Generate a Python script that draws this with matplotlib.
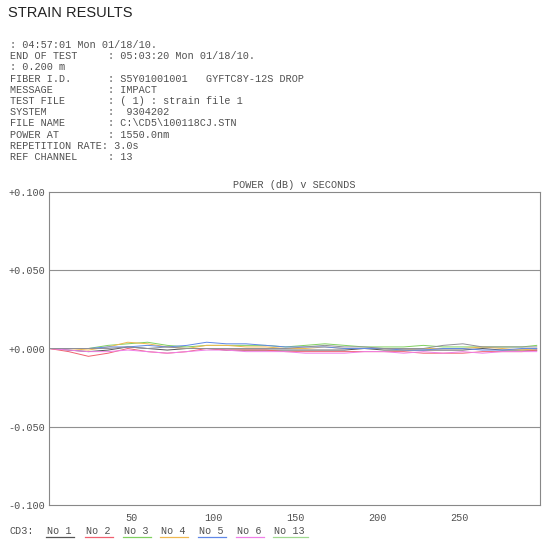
import matplotlib.pyplot as plt

# time (s) and power change (dB) per channel
seconds = [0, 12, 24, 36, 48, 60, 72, 84, 96, 108, 120, 132, 144, 156, 168,
           180, 192, 204, 216, 228, 240, 252, 264, 276, 288, 297]
no1 = [0.000, -0.001, -0.002, -0.001, 0.001, 0.000, -0.001, 0.000, 0.000, -0.001, -0.001, -0.001, -0.001, -0.001, -0.001,
       -0.001, 0.000, -0.001, -0.001, -0.001, -0.001, -0.001, 0.000, -0.001, -0.001, -0.001]
no2 = [0.000, -0.002, -0.005, -0.003, 0.000, -0.002, -0.003, -0.002, 0.000, -0.001, -0.001, -0.001, -0.002, -0.002, -0.002,
       -0.002, -0.002, -0.002, -0.002, -0.003, -0.003, -0.003, -0.002, -0.002, -0.002, -0.001]
no3 = [0.000, 0.000, 0.000, 0.002, 0.003, 0.004, 0.002, 0.001, 0.002, 0.002, 0.002, 0.002, 0.001, 0.002, 0.003,
       0.002, 0.001, 0.001, 0.001, 0.002, 0.001, 0.001, 0.001, 0.001, 0.001, 0.002]
no4 = [0.000, 0.000, -0.001, 0.001, 0.004, 0.003, 0.001, 0.000, 0.002, 0.002, 0.001, 0.001, 0.000, 0.000, 0.001,
       0.000, 0.000, 0.000, -0.001, 0.000, 0.000, 0.000, 0.001, 0.000, -0.001, 0.000]
no5 = [0.000, 0.000, 0.000, 0.001, 0.001, 0.002, 0.001, 0.002, 0.004, 0.003, 0.003, 0.002, 0.001, 0.001, 0.001,
       0.000, 0.000, 0.000, -0.001, -0.001, 0.000, 0.000, -0.001, -0.001, 0.000, 0.000]
no6 = [0.000, -0.001, -0.002, -0.002, -0.001, -0.002, -0.003, -0.002, -0.001, -0.001, -0.002, -0.002, -0.002, -0.003, -0.003,
       -0.003, -0.002, -0.002, -0.003, -0.002, -0.003, -0.002, -0.003, -0.002, -0.002, -0.002]
no13 = [0.000, 0.000, 0.000, 0.000, 0.001, 0.000, 0.001, 0.000, 0.000, 0.000, 0.000, 0.000, 0.000, 0.001, 0.002,
        0.001, 0.001, 0.000, 0.000, 0.000, 0.002, 0.003, 0.001, 0.001, 0.001, 0.001]

series = [no1, no2, no3, no4, no5, no6, no13]
labels = ['No 1', 'No 2', 'No 3', 'No 4', 'No 5', 'No 6', 'No 13']
colors = ['#555555', '#f06070', '#80d060', '#f0b850', '#6088e8', '#f080e8', '#909098']
legend_under = ['#555555', '#f06070', '#80d060', '#f0b850', '#6088e8', '#f080e8', '#a0d890']

yticks = [-0.1, -0.05, 0.0, 0.05, 0.1]
ytick_labels = ['-0.100', '-0.050', '+0.000', '+0.050', '+0.100']
xticks = [50, 100, 150, 200, 250]

header = [
    ': 04:57:01 Mon 01/18/10.',
    'END OF TEST     : 05:03:20 Mon 01/18/10.',
    ': 0.200 m',
    'FIBER I.D.      : S5Y01001001   GYFTC8Y-12S DROP',
    'MESSAGE         : IMPACT',
    'TEST FILE       : ( 1) : strain file 1',
    'SYSTEM          :  9304202',
    'FILE NAME       : C:\\CD5\\100118CJ.STN',
    'POWER AT        : 1550.0nm',
    'REPETITION RATE: 3.0s',
    'REF CHANNEL     : 13',
]

W, H = 558, 544
fig = plt.figure(figsize=(W / 100, H / 100), dpi=100)
txt = '#505050'
mono = 'Liberation Mono'
fs = 7.3

fig.text(8 / W, 1 - 13 / H, 'STRAIN RESULTS', fontsize=10.5, family='Liberation Sans',
         va='center', ha='left', color='#222222')
for i, line in enumerate(header):
    fig.text(10 / W, 1 - (45 + i * 11.2) / H, line, fontsize=fs, family=mono,
             va='center', ha='left', color=txt)

ax = fig.add_axes([49 / W, 1 - 505 / H, (540 - 49) / W, (505 - 192) / H])
for ys, c in zip(series, colors):
    ax.plot(seconds, ys, color=c, lw=0.7)

ax.set_xlim(0, 299)
ax.set_ylim(-0.1, 0.1)
for y in (-0.05, 0.05):
    ax.axhline(y, color='#909090', lw=0.8, zorder=0)
ax.set_yticks(yticks)
ax.set_yticklabels(ytick_labels, family=mono, fontsize=fs, color=txt)
ax.set_xticks(xticks)
ax.set_xticklabels([str(v) for v in xticks], family=mono, fontsize=fs, color=txt)
ax.tick_params(length=0, pad=3)
ax.tick_params(axis='x', pad=6)
for s in ax.spines.values():
    s.set_color('#888888')
    s.set_linewidth(0.8)
ax.set_title('POWER (dB) v SECONDS', family=mono, fontsize=fs, color=txt, pad=3)

# channel key along the bottom
fig.text(10 / W, 1 - 531 / H, 'CD3:', family=mono, fontsize=fs, color=txt, va='center')
xs = [47, 86, 124, 161, 199, 237, 274]
for x, lab, c in zip(xs, labels, legend_under):
    fig.text(x / W, 1 - 531 / H, lab, family=mono, fontsize=fs, color=txt, va='center')
    w = 6.1 * len(lab)
    fig.add_artist(plt.Line2D([(x - 1) / W, (x + w + 3) / W], [1 - 537 / H] * 2,
                              color=c, lw=0.9, transform=fig.transFigure))

fig.savefig('out.png', dpi=100)
